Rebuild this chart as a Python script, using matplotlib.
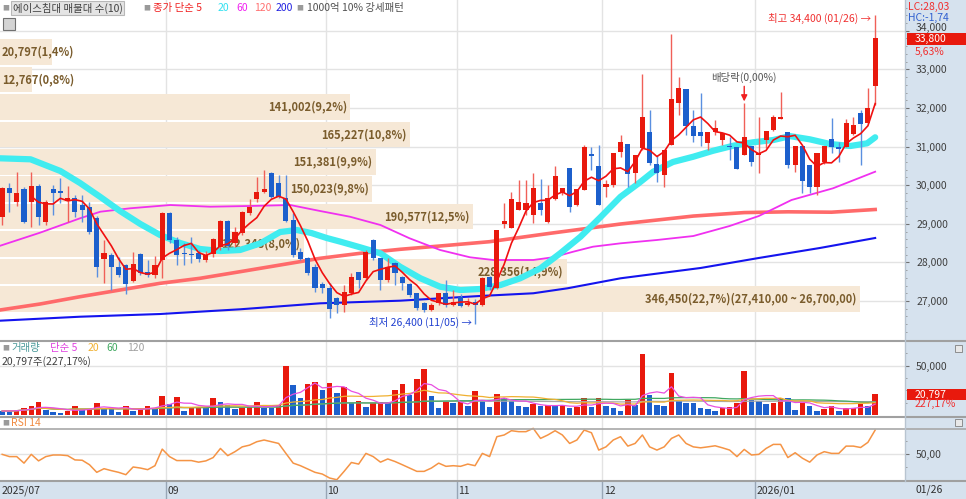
import numpy as np
import pandas as pd
import matplotlib
matplotlib.use('Agg')
import matplotlib.pyplot as plt
from matplotlib.patches import Rectangle
from matplotlib.lines import Line2D
from matplotlib.transforms import blended_transform_factory, ScaledTranslation

plt.rcParams['font.family'] = ['Noto Sans CJK KR', 'DejaVu Sans']

# ---- 일봉 데이터 (2025/07/29 ~ 2026/01/26, 121개) ----
opens = [29185, 29918, 29570, 29892, 29573, 29979, 29055, 29892, 29850, 29600,
         29677, 29487, 29444, 29142, 28089, 28192, 27890, 27934, 27528, 28218,
         27760, 27675, 28063, 29271, 28580, 28253, 28218, 28235, 28063, 28210,
         28390, 29073, 28494, 28753, 29271, 29634, 29832, 30324, 30048, 29660,
         29099, 28279, 28106, 27890, 27442, 27330, 27070, 26898, 27200, 27761,
         27588, 28580, 28106, 27545, 27977, 27632, 27442, 27200, 26958, 26768,
         26941, 27200, 26898, 27114, 26898, 26984, 26898, 27620, 27329, 28986,
         28882, 29357, 29357, 29228, 29547, 29055, 29633, 29789, 30436, 29487,
         29875, 30800, 30497, 29962, 30005, 30868, 31066, 30307, 30955, 31369,
         30549, 30264, 31041, 32120, 32482, 31533, 31386, 31084, 31386, 31170,
         31015, 30980, 30781, 31015, 30782, 31170, 31429, 31705, 31386, 30523,
         31015, 30523, 29962, 30609, 31188, 30997, 30997, 31326, 31878, 31619,
         32569]
highs = [29950, 30065, 30350, 29950, 30350, 30020, 29620, 30005, 30177, 29980,
         29750, 29750, 29573, 29200, 28580, 28250, 28150, 27950, 28280, 28250,
         28063, 28167, 29314, 29314, 28667, 28494, 28667, 28322, 28300, 28620,
         29100, 29100, 28926, 29320, 29634, 30220, 30393, 30350, 30264, 30264,
         29271, 28365, 28150, 27950, 27500, 27459, 27100, 27416, 27735, 27761,
         28322, 28600, 28106, 28106, 28020, 27650, 27460, 27220, 26980, 26941,
         27200, 27545, 27286, 27183, 27080, 27050, 27620, 27650, 28839, 29530,
         29832, 30134, 30134, 30324, 30152, 30005, 30497, 29936, 30436, 29892,
         31040, 31000, 31040, 30134, 30842, 31300, 31066, 30782, 32880, 31947,
         30782, 30911, 33915, 32810, 32482, 31947, 32379, 31386, 31688, 31360,
         31260, 30990, 32120, 31015, 31775, 31412, 31818, 32422, 31386, 31015,
         31015, 30523, 30825, 31015, 31731, 31130, 31705, 31774, 31947, 32508,
         34400]
lows = [28970, 29314, 29450, 29010, 28926, 28960, 28960, 29230, 29530, 29055,
        29185, 29055, 28737, 27614, 27460, 27287, 27632, 27183, 27500, 27675,
        27632, 27589, 27589, 28500, 27934, 27934, 27977, 28020, 28020, 28150,
        28320, 28322, 28408, 28710, 29228, 29573, 29806, 29660, 29677, 29055,
        28150, 28063, 27675, 27243, 27200, 26553, 26680, 26725, 27157, 27330,
        27545, 28063, 27286, 27500, 27416, 27286, 27114, 26768, 26725, 26740,
        26900, 26855, 26870, 26855, 26860, 26400, 26880, 27280, 27300, 28900,
        28882, 29357, 29228, 29012, 29228, 29029, 29616, 29740, 29314, 29450,
        29875, 30390, 29486, 29700, 29960, 30721, 29962, 30048, 30920, 30523,
        30091, 29960, 31041, 31818, 31300, 31127, 31015, 30911, 31300, 31040,
        30650, 30410, 30781, 30497, 30307, 30955, 31400, 31705, 30437, 30350,
        29789, 29789, 29746, 30550, 30825, 30609, 30997, 31300, 30523, 31619,
        32076]
closes = [29918, 29789, 29807, 29055, 29979, 29168, 29573, 29789, 29789, 29660,
          29314, 29357, 28797, 27873, 28235, 27890, 27675, 27442, 27960, 27718,
          27675, 27934, 29271, 28580, 28192, 28218, 28200, 28089, 28200, 28606,
          29073, 28425, 28796, 29297, 29444, 29832, 29892, 29703, 29703, 29073,
          28192, 28080, 27735, 27330, 27330, 26790, 26900, 27243, 27632, 27545,
          28278, 28106, 27545, 27890, 27718, 27459, 27157, 26812, 26768, 26898,
          27200, 26898, 26984, 26873, 26941, 26898, 27588, 27360, 28839, 29072,
          29633, 29573, 29530, 29936, 29357, 29659, 30238, 29936, 29443, 29892,
          30997, 30760, 29486, 30030, 30842, 31118, 30280, 30782, 31775, 30566,
          30307, 30911, 32232, 32508, 31533, 31274, 31274, 31386, 31472, 31360,
          30980, 30410, 31240, 30610, 30825, 31412, 31757, 31757, 30523, 31015,
          30108, 29962, 30825, 31015, 30980, 30928, 31619, 31559, 31585, 32000,
          33800]
volumes = [4056, 4056, 5070, 6760, 9126, 12844, 5070, 2704, 2366, 4056,
           9464, 6084, 6400, 11830, 7436, 6084, 3380, 9126, 4056, 6084,
           9126, 7436, 19266, 10816, 18590, 4056, 6760, 8450, 7436, 17576,
           12844, 10140, 5746, 7436, 8450, 12844, 7436, 7436, 10140, 50024,
           30420, 16900, 31096, 33800, 25350, 32786, 21970, 28730, 11830, 14196,
           8450, 11830, 13520, 12506, 25350, 31096, 20280, 36166, 46644, 19266,
           6760, 13520, 11830, 14534, 9126, 24674, 14534, 8450, 21294, 16900,
           14534, 9464, 8450, 10816, 9126, 10140, 9126, 9800, 6760, 8450,
           16900, 8450, 16900, 9464, 6760, 4394, 15210, 10140, 61516, 20280,
           10140, 9126, 42250, 14196, 12506, 11830, 6760, 6084, 4394, 7436,
           8450, 12506, 44954, 15210, 14534, 11154, 12506, 17576, 16900, 5070,
           12506, 9126, 4394, 6084, 9126, 4394, 6760, 7436, 11154, 9155,
           20797]
rsi = [49.7, 47.6, 47.6, 41.5, 49.7, 43.6, 47.6, 49.1, 49.1, 48.5,
       44.5, 44.2, 40.0, 32.9, 36.3, 34.5, 32.9, 30.7, 37.9, 36.9,
       35.4, 39.1, 54.6, 47.6, 43.9, 43.9, 43.9, 42.4, 43.6, 46.7,
       55.2, 48.5, 52.2, 56.7, 58.3, 61.5, 63.1, 61.5, 59.9, 50.6,
       41.5, 39.1, 36.0, 32.9, 31.3, 27.6, 26.0, 33.8, 42.1, 40.6,
       50.6, 47.6, 42.4, 45.4, 43.0, 40.0, 36.9, 33.8, 33.8, 36.9,
       41.5, 38.5, 39.1, 38.5, 40.6, 39.1, 50.6, 47.6, 66.2, 67.8,
       71.8, 70.9, 70.9, 74.0, 64.6, 67.8, 71.8, 67.8, 59.9, 63.1,
       72.4, 69.9, 53.7, 56.7, 63.1, 66.2, 57.4, 59.9, 67.8, 56.7,
       53.7, 56.7, 64.6, 67.8, 59.9, 56.7, 55.8, 56.7, 57.7, 55.8,
       53.7, 47.6, 54.3, 49.1, 49.7, 55.2, 59.0, 59.0, 46.7, 51.2,
       46.1, 42.4, 49.1, 52.2, 50.6, 50.6, 57.4, 57.4, 56.1, 60.9,
       72.4]

# ---- 이동평균선 ----
ma20_idx = [-0.3, 3.9, 8.0, 10.7, 13.5, 16.2, 19.0, 21.7, 24.5, 27.2, 30.0, 32.7,
            35.5, 38.2, 40.5, 42.5, 44.6, 46.5, 49.2, 52.0, 54.7, 57.5, 60.2, 63.0,
            65.7, 68.5, 71.2, 74.0, 76.7, 79.5, 82.2, 85.0, 87.5, 89.5, 92.2, 95.0,
            97.7, 100.5, 103.2, 106.0, 108.3, 111.0, 113.8, 116.6, 118.9, 120.0]
ma20_val = [30696, 30670, 30367, 30056, 29694, 29331, 28994, 28709, 28500, 28347, 28295, 28321,
            28494, 28787, 28839, 28761, 28632, 28536, 28391, 28235, 27888, 27588, 27370, 27285,
            27311, 27414, 27588, 27847, 28235, 28665, 29163, 29700, 30050, 30350, 30600, 30737,
            30890, 31022, 31110, 31170, 31270, 31188, 31066, 31015, 31084, 31240]
ma60_idx = [-0.3, 5.2, 10.7, 13.5, 17.6, 23.1, 28.6, 34.1, 39.6, 43.7, 47.8, 52.0, 56.0, 60.2,
            64.3, 67.5, 73.0, 75.7, 78.5, 81.2, 85.0, 90.0, 95.0, 100.0, 104.0, 108.5, 114.2, 120.0]
ma60_val = [28430, 28769, 29142, 29313, 29401, 29486, 29442, 29461, 29486, 29331, 29183, 28968, 28624, 28321,
            28132, 28062, 28062, 28132, 28277, 28406, 28494, 28580, 28683, 28943, 29201, 29616, 29919, 30349]
ma120_idx = [-0.3, 5.2, 10.7, 16.2, 21.7, 27.2, 32.7, 38.2, 43.7, 49.2, 54.7, 60.2, 67.0, 75.3,
             85.0, 95.0, 102.0, 108.0, 114.0, 120.0]
ma120_val = [26767, 26922, 27111, 27285, 27458, 27588, 27759, 27932, 28106, 28235, 28339, 28425, 28536, 28753,
             28994, 29200, 29290, 29310, 29300, 29370]
ma200_idx = [-0.3, 10.7, 21.7, 32.7, 43.7, 54.7, 65.7, 73.0, 77.7, 85.0, 96.0, 104.0, 112.4, 120.0]
ma200_val = [26490, 26593, 26663, 26785, 26940, 27008, 27130, 27200, 27329, 27588, 27855, 28114, 28373, 28632]

# ---- 매물대 (아래 구간부터) ----
profile_vol = [346450, 228356, 122348, 190577, 150023, 151381, 165227, 141002, 12767, 20797]
profile_pct = [22.7, 14.9, 8.0, 12.5, 9.8, 9.9, 10.8, 9.2, 0.8, 1.4]
profile_low = 26700
profile_step = 710

month_pos = [22.5, 44.5, 62.5, 82.5, 103.5]
month_labels = ['09', '10', '11', '12', '2026/01']
price_ticks = [27000, 28000, 29000, 30000, 31000, 32000, 33000, 34000]
change_pct = 5.63
vol_ratio = 227.17
high_idx, low_idx, div_idx = 120, 65, 102

RED, BLUE = '#e8190d', '#1c5fcc'
RED_W, BLUE_W = '#f06058', '#5a8fe0'
STRIP = '#d6e2ee'
GRID = '#e3e3e3'

W, H, PW = 966, 499, 905
def fx(x): return x / W
def fy(y): return 1 - y / H

fig = plt.figure(figsize=(9.66, 4.99), dpi=100)
fig.patches.append(Rectangle((fx(PW), 0), 1 - fx(PW), 1, transform=fig.transFigure,
                             facecolor=STRIP, edgecolor='none', zorder=-5))
fig.patches.append(Rectangle((0, 0), 1, 18 / H, transform=fig.transFigure,
                             facecolor=STRIP, edgecolor='none', zorder=-5))

ax_p = fig.add_axes([0, fy(341), fx(PW), 341 / H])
ax_v = fig.add_axes([0, fy(417), fx(PW), 76 / H], sharex=ax_p)
ax_r = fig.add_axes([0, fy(481), fx(PW), 64 / H], sharex=ax_p)
ax_s = fig.add_axes([0, 0, fx(PW), 18 / H], sharex=ax_p)

for ax in (ax_p, ax_v, ax_r, ax_s):
    for s in ax.spines.values():
        s.set_visible(False)
    ax.tick_params(axis='x', bottom=False, labelbottom=False)
ax_s.set_facecolor(STRIP)
ax_s.set_yticks([])
ax_p.set_xlim(-0.3, 124.1)

idx = np.arange(len(closes))
o, h, l, c = map(np.array, (opens, highs, lows, closes))
up = c > o

# ---- 가격 패널 ----
ax_p.set_ylim(25964, 34796)
for lv in price_ticks:
    ax_p.axhline(lv, color=GRID, lw=1, zorder=0)
for pos in month_pos:
    for ax in (ax_p, ax_v, ax_r):
        ax.axvline(pos, color=GRID, lw=1, zorder=0)

trans_p = blended_transform_factory(ax_p.transAxes, ax_p.transData)
vmax = max(profile_vol)
for k, (pv, pc) in enumerate(zip(profile_vol, profile_pct)):
    lo = profile_low + k * profile_step
    frac = pv / vmax * 0.95
    ax_p.add_patch(Rectangle((0, lo + 22), frac, profile_step - 44, transform=trans_p,
                             facecolor='#f6e8d6', edgecolor='none', zorder=0.5))
    txt = f'{pv:,}({pc:.1f}%)'.replace('.', ',')
    if pv == vmax:
        txt += f'({lo + profile_step:,.2f} ~ {lo:,.2f})'.replace('.', ',')
    if frac > 0.1:
        ax_p.text(frac - 3 / PW, lo + profile_step / 2, txt, transform=trans_p, ha='right',
                  va='center', fontsize=8, color='#7a5c2c', fontweight='bold', zorder=1.5)
    else:
        ax_p.text(2 / PW, lo + profile_step / 2, txt, transform=trans_p, ha='left',
                  va='center', fontsize=8, color='#7a5c2c', fontweight='bold', zorder=1.5)

ax_p.plot(ma200_idx, ma200_val, color='#1414ee', lw=1.5, zorder=3)
ax_p.plot(ma120_idx, ma120_val, color='#ff6a6a', lw=2.6, zorder=3)
ax_p.plot(ma60_idx, ma60_val, color='#f030f0', lw=1.3, zorder=3)
ax_p.plot(ma20_idx, ma20_val, color='#40ecf0', lw=4.5, solid_capstyle='round', zorder=3)

ax_p.vlines(idx, l, h, colors=np.where(up, RED_W, BLUE_W), lw=1, zorder=4)
ax_p.bar(idx, np.maximum(np.abs(c - o), 25), bottom=np.minimum(o, c), width=0.7,
         color=np.where(up, RED, BLUE), zorder=4.2)
ma5 = pd.Series(closes).rolling(5).mean()
ax_p.plot(idx, ma5, color='#f01010', lw=1.2, zorder=4.5)

ax_p.yaxis.tick_right()
ax_p.set_yticks(price_ticks)
ax_p.set_yticklabels([f'{v:,}' for v in price_ticks])
ax_p.set_yticks(np.arange(26000, 34800, 200), minor=True)
ax_p.tick_params(axis='y', which='major', length=3, width=0.8, color='#707070', pad=5,
                 labelsize=7.5, labelcolor='#404040')
ax_p.tick_params(axis='y', which='minor', length=1.5, width=0.6, color='#909090')
# 현재가 박스와 겹치지 않도록 맨 위 눈금 글자를 살짝 올림
top_lbl = ax_p.get_yticklabels()[-1]
top_lbl.set_transform(top_lbl.get_transform() + ScaledTranslation(0, 3 / 72, fig.dpi_scale_trans))

ax_p.text(high_idx - 0.6, highs[high_idx] - 70, '최고 34,400 (01/26) →', ha='right', va='center',
          fontsize=7.5, color='#f03030', zorder=6)
ax_p.text(low_idx - 0.4, lows[low_idx] + 55, '최저 26,400 (11/05) →', ha='right', va='center',
          fontsize=7.5, color='#2040d0', zorder=6)
ax_p.text(div_idx, 32790, '배당락(0,00%)', ha='center', va='center', fontsize=7.5, color='#555555', zorder=6)
ax_p.annotate('', xy=(div_idx, 32170), xytext=(div_idx, 32560),
              arrowprops=dict(arrowstyle='-|>', color='#f02020', lw=1, mutation_scale=9,
                              shrinkA=0, shrinkB=0), zorder=6)

ax_p.add_patch(Rectangle((907 / PW, 33625), 59 / PW, 320, transform=trans_p, facecolor=RED,
                         edgecolor='none', clip_on=False, zorder=6))
ax_p.text(915 / PW, closes[-1] - 15, f'{closes[-1]:,}', transform=trans_p, color='white', fontsize=7.5,
          va='center', ha='left', clip_on=False, zorder=7)
ax_p.text(915 / PW, closes[-1] - 340, f'{change_pct:.2f}%'.replace('.', ','), transform=trans_p,
          color='#f03030', fontsize=7.5, va='center', ha='left', clip_on=False, zorder=7)

# ---- 거래량 패널 ----
vol = np.array(volumes)
vol_up = np.r_[False, vol[1:] > vol[:-1]]
ax_v.set_ylim(-2028, 75036)
ax_v.axhline(50000, color=GRID, lw=1, zorder=0)
ax_v.bar(idx, vol, width=0.76, color=np.where(vol_up, RED, BLUE), zorder=2)
vs = pd.Series(volumes)
ax_v.plot(idx, vs.rolling(120, min_periods=1).mean(), color='#a8a8a8', lw=0.9, zorder=3)
ax_v.plot(idx, vs.rolling(60, min_periods=1).mean(), color='#40a860', lw=0.9, zorder=3)
ax_v.plot(idx, vs.rolling(20, min_periods=1).mean(), color='#f0b030', lw=0.9, zorder=3)
ax_v.plot(idx, vs.rolling(5, min_periods=1).mean(), color='#e850e0', lw=0.9, zorder=3)
ax_v.yaxis.tick_right()
ax_v.set_yticks([50000])
ax_v.set_yticklabels(['50,000'])
ax_v.set_yticks([12500, 25000, 37500, 62500], minor=True)
ax_v.tick_params(axis='y', which='major', length=3, width=0.8, color='#707070', pad=5,
                 labelsize=7.5, labelcolor='#404040')
ax_v.tick_params(axis='y', which='minor', length=1.5, width=0.6, color='#909090')
trans_v = blended_transform_factory(ax_v.transAxes, ax_v.transData)
ax_v.add_patch(Rectangle((907 / PW, volumes[-1] - 6000), 59 / PW, 12000, transform=trans_v,
                         facecolor=RED, edgecolor='none', clip_on=False, zorder=6))
ax_v.text(915 / PW, volumes[-1], f'{volumes[-1]:,}', transform=trans_v, color='white', fontsize=7.5,
          va='center', ha='left', clip_on=False, zorder=7)
ax_v.text(915 / PW, volumes[-1] - 9800, f'{vol_ratio:.2f}%'.replace('.', ','), transform=trans_v,
          color='#f03030', fontsize=7.5, va='center', ha='left', clip_on=False, zorder=7)

# ---- RSI 패널 ----
ax_r.set_ylim(24.8, 84.6)
ax_r.axhline(50, color=GRID, lw=1, zorder=0)
ax_r.plot(idx, rsi, color='#f59445', lw=1.1, zorder=3)
ax_r.yaxis.tick_right()
ax_r.set_yticks([50])
ax_r.set_yticklabels(['50,00'])
ax_r.set_yticks([37.5, 62.5], minor=True)
ax_r.tick_params(axis='y', which='major', length=3, width=0.8, color='#707070', pad=5,
                 labelsize=7.5, labelcolor='#404040')
ax_r.tick_params(axis='y', which='minor', length=1.5, width=0.6, color='#909090')

# ---- 날짜 축 ----
trans_s = blended_transform_factory(ax_s.transData, ax_s.transAxes)
ax_s.text(-0.15, 0.45, '2025/07', transform=trans_s, fontsize=7.5, color='#303030', va='center')
for pos, lab in zip(month_pos, month_labels):
    ax_s.axvline(pos, color='#98a6b6', lw=1)
    ax_s.text(pos + 0.2, 0.45, lab, transform=trans_s, fontsize=7.5, color='#303030', va='center')
fig.text(fx(916), fy(490), '01/26', fontsize=7.5, color='#303030', va='center')

# ---- 패널 구분선 ----
for yy in (341, 417, 481):
    fig.add_artist(Line2D([0, 1], [fy(yy), fy(yy)], color='#a0a0a0', lw=1.5, transform=fig.transFigure))
fig.add_artist(Line2D([0, 1], [fy(429), fy(429)], color='#a8a8a8', lw=1.2, transform=fig.transFigure))
fig.add_artist(Line2D([fx(PW), fx(PW)], [fy(481), 1], color='#b8c4d0', lw=1, transform=fig.transFigure))

# ---- 범례/제목 ----
def label(x, y, s, color, size=7.5, **kw):
    fig.text(fx(x), fy(y), s, color=color, fontsize=size, va='center', ha='left', **kw)

label(2, 8, '■', '#9a9a9a', size=5)
label(13, 8, '에이스침대 매물대 수(10)', '#404040',
      bbox=dict(boxstyle='square,pad=0.15', fc='#e4e4e4', ec='#b8b8b8', lw=0.8))
label(143, 8, '■', '#9a9a9a', size=5)
label(153, 8, '종가 단순 5', '#f02020')
label(218, 8, '20', '#30e0f0')
label(236, 8, '60', '#f020f0')
label(254, 8, '120', '#ff7070')
label(276, 8, '200', '#2020e0')
label(296, 8, '■', '#9a9a9a', size=5)
label(307, 8, '1000억 10% 강세패턴', '#505050')
fig.patches.append(Rectangle((fx(3), fy(30)), 12 / W, 12 / H, transform=fig.transFigure,
                             facecolor='#d4d4d4', edgecolor='#707070', lw=0.8))
label(908, 7, 'LC:28,03', '#f03030')
label(908, 18, 'HC:-1,74', '#3060d0')

# 패널 오른쪽 위 작은 닫기 아이콘
for yy in (345, 419):
    fig.patches.append(Rectangle((fx(955), fy(yy + 7)), 7 / W, 7 / H, transform=fig.transFigure,
                                 facecolor='#e8e8e8', edgecolor='#808080', lw=0.6))

label(2, 348, '■', '#9a9a9a', size=5)
label(11, 348, '거래량', '#4a9a9a')
label(50, 348, '단순 5', '#e040e0')
label(88, 348, '20', '#f0b030')
label(106, 348, '60', '#40a860')
label(127, 348, '120', '#a0a0a0')
label(2, 362, f'{volumes[-1]:,}주({vol_ratio:.2f}%)'.replace('.', ','), '#404040')
label(2, 423, '■', '#9a9a9a', size=5)
label(11, 423, 'RSI 14', '#f08a40')

fig.savefig('out.png', dpi=100)
